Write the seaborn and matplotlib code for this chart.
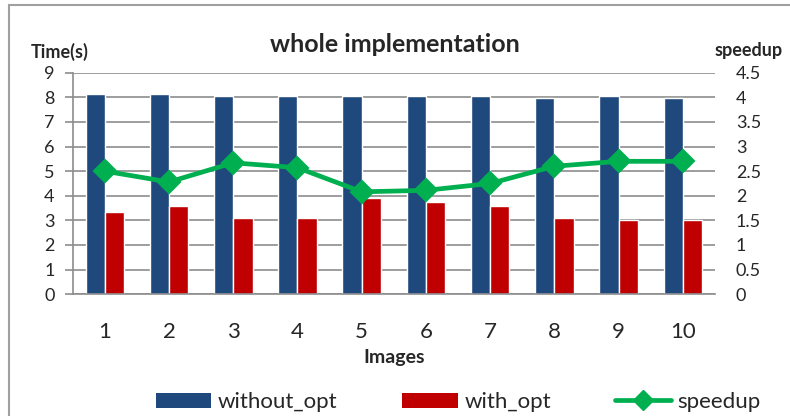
"""Whole implementation timing: bars for time, line for speedup."""

import matplotlib

matplotlib.use("Agg")
import matplotlib.pyplot as plt
import numpy as np
import pandas as pd
import seaborn as sns
from matplotlib.lines import Line2D
from matplotlib.patches import Patch

images = ["1", "2", "3", "4", "5", "6", "7", "8", "9", "10"]
without_opt = [8.13, 8.13, 8.05, 8.05, 8.05, 8.05, 8.05, 7.96, 8.05, 7.96]
with_opt = [3.33, 3.58, 3.09, 3.09, 3.90, 3.74, 3.58, 3.09, 3.01, 3.01]
speedup = [2.50, 2.28, 2.67, 2.57, 2.08, 2.11, 2.25, 2.60, 2.70, 2.70]

BLUE = "#1F497D"
RED = "#C00000"
GREEN = "#00B050"
GRID = "#8C8C8C"

sns.set_theme(style="white")
plt.rcParams["font.family"] = ["Lato", "DejaVu Sans"]

df = pd.DataFrame(
    {
        "Images": images * 2,
        "Time": without_opt + with_opt,
        "series": ["without_opt"] * len(images) + ["with_opt"] * len(images),
    }
)

fig = plt.figure(figsize=(7.9, 4.16), dpi=100)
ax = fig.add_axes([0.092, 0.293, 0.813, 0.532])

sns.barplot(
    data=df,
    x="Images",
    y="Time",
    hue="series",
    order=images,
    hue_order=["without_opt", "with_opt"],
    palette=[BLUE, RED],
    width=0.6,
    saturation=1,
    legend=False,
    ax=ax,
)

ax.set_ylim(0, 9)
ax.set_xlim(-0.5, len(images) - 0.5)
ax.set_yticks(range(0, 10))
ax.yaxis.grid(True, color=GRID, linewidth=1.2)
ax.set_axisbelow(True)
for side in ["top", "right"]:
    ax.spines[side].set_visible(False)
for side in ["left", "bottom"]:
    ax.spines[side].set_color(GRID)
    ax.spines[side].set_linewidth(1.2)

ax.set_xticks(np.arange(len(images)))
ax.set_xticklabels(images, fontsize=16)
ax.set_xticks(np.arange(len(images) + 1) - 0.5, minor=True)
ax.tick_params(axis="x", which="major", length=0, pad=20)
ax.tick_params(axis="x", which="minor", length=6, width=1.2, color=GRID, direction="out")
ax.tick_params(axis="y", length=6, width=1.2, color=GRID, direction="out", labelsize=13, pad=7)
ax.set_xlabel("Images", fontsize=14, fontweight="bold", labelpad=5)
ax.set_ylabel("")

ax2 = ax.twinx()
sns.pointplot(
    x=images,
    y=speedup,
    order=images,
    color=GREEN,
    markers="D",
    markersize=10,
    linewidth=3.4,
    ax=ax2,
)
ax2.set_xlim(-0.5, len(images) - 0.5)
ax2.set_ylim(0, 4.5)
ax2.set_yticks(np.arange(0, 4.6, 0.5))
ax2.set_yticklabels(["0", "0.5", "1", "1.5", "2", "2.5", "3", "3.5", "4", "4.5"])
ax2.tick_params(axis="y", length=0, labelsize=13, pad=15)
for side in ["top", "right", "left", "bottom"]:
    ax2.spines[side].set_visible(False)
ax2.set_ylabel("")

fig.text(0.5, 0.893, "whole implementation", ha="center", va="center", fontsize=18, fontweight="bold")
fig.text(0.076, 0.875, "Time(s)", ha="center", va="center", fontsize=13, fontweight="bold")
fig.text(0.947, 0.878, "speedup", ha="center", va="center", fontsize=13, fontweight="bold")

handles = [
    Patch(facecolor=BLUE, edgecolor="none"),
    Patch(facecolor=RED, edgecolor="none"),
    Line2D([0], [0], color=GREEN, linewidth=3.4, marker="D", markersize=10),
]
fig.legend(
    handles,
    ["without_opt", "with_opt", "speedup"],
    loc="center",
    bbox_to_anchor=(0.58, 0.033),
    ncol=3,
    frameon=False,
    fontsize=16,
    handlelength=2.5,
    handleheight=0.7,
    handletextpad=0.3,
    columnspacing=2.9,
)

# outer chart border (only top and left edges show in the crop)
fig.add_artist(Line2D([9 / 790, 1], [411 / 416, 411 / 416], color="#A0A0A0", linewidth=1.5))
fig.add_artist(Line2D([9 / 790, 9 / 790], [0, 411 / 416], color="#A0A0A0", linewidth=1.5))

fig.savefig("out.png", dpi=100)
